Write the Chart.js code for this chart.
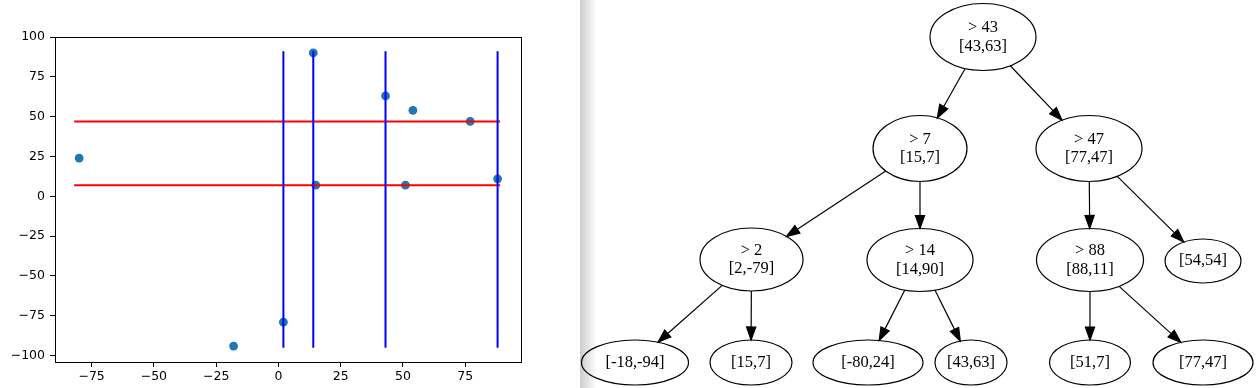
<!DOCTYPE html>
<html lang="en">
<head>
    <meta charset="UTF-8">
    <title>k-d tree splits</title>
    <script src="https://cdn.jsdelivr.net/npm/chart.js"></script>
    <style>
        body { margin: 0; background: #fff; overflow: hidden; }
        #wrap { position: relative; width: 1259px; height: 388px; }
        #chartPts { position: absolute; left: 0; top: 0; }
        #shade {
            position: absolute; left: 580px; top: 0; width: 17px; height: 388px;
            background: linear-gradient(to right, #cdcdcd, #ffffff);
        }
        #chartTree { position: absolute; left: 580px; top: 0; }
    </style>
</head>
<body>
<div id="wrap">
    <canvas id="chartPts" width="580" height="388"></canvas>
    <div id="shade"></div>
    <canvas id="chartTree" width="679" height="388"></canvas>
</div>

<script>
    // points
    const ptX = [-80, -18, 2, 14, 15, 43, 51, 54, 77, 88];
    const ptY = [24, -94, -79, 90, 7, 63, 7, 54, 47, 11];

    // split lines
    const hSplits = [47, 7];          // y value of each horizontal split
    const hSpan = [-82, 89];          // x extent
    const vSplits = [2, 14, 43, 88];  // x value of each vertical split
    const vSpan = [-95, 91];          // y extent

    // tick labels
    const xTicks = [-75, -50, -25, 0, 25, 50, 75];
    const yTicks = [-100, -75, -50, -25, 0, 25, 50, 75, 100];

    // tree nodes: point stored in node, split value (null for leaves), parent index
    const nodePx = [43, 15, 77, 2, 14, 88, 54, -18, 15, -80, 43, 51, 77];
    const nodePy = [63, 7, 47, -79, 90, 11, 54, -94, 7, 24, 63, 7, 47];
    const nodeSplit = [43, 7, 47, 2, 14, 88, null, null, null, null, null, null, null];
    const nodeParent = [-1, 0, 0, 1, 1, 2, 2, 3, 3, 4, 4, 5, 5];

    // tree layout (layout units of the tree panel)
    const layoutX = [403, 340, 509, 171.5, 340, 510, 623, 55, 171, 288, 391, 510, 623];
    const layoutY = [37, 148.5, 148.5, 259.5, 260, 260, 261, 362.5, 362.5, 362.5, 362.5, 362.5, 362.5];
    const nodeW = [106, 94, 106, 103, 106, 107, 76, 107, 82, 110, 72, 81, 100];
    const nodeH = [67, 66, 66, 63, 63, 63, 44, 45, 45, 45, 45, 45, 45];

    Chart.defaults.font.family = 'DejaVu Sans';
    Chart.defaults.font.size = 12.5;
    Chart.defaults.color = '#000';
    const tickFont = { family: 'DejaVu Sans', size: 12.5 };
    const minus = v => String(v).replace('-', '\u2212');

    // box around the plot area (matplotlib spines)
    const framePlugin = {
        id: 'frame',
        afterDraw(chart) {
            const a = chart.chartArea, ctx = chart.ctx;
            ctx.save();
            ctx.strokeStyle = '#000';
            ctx.lineWidth = 1;
            ctx.strokeRect(Math.round(a.left) + 0.5, Math.round(a.top) + 0.5,
                Math.round(a.right - a.left), Math.round(a.bottom - a.top));
            ctx.restore();
        }
    };

    const datasets = [{
        type: 'scatter',
        data: ptX.map((x, i) => ({ x: x, y: ptY[i] })),
        backgroundColor: '#1f77b4',
        borderWidth: 0,
        pointRadius: 4.4,
        order: 3
    }];
    hSplits.forEach(v => datasets.push({
        type: 'line',
        data: hSpan.map(x => ({ x: x, y: v })),
        borderColor: '#ff0000',
        borderWidth: 2,
        pointRadius: 0,
        fill: false,
        order: 2
    }));
    vSplits.forEach(v => datasets.push({
        type: 'line',
        data: vSpan.map(y => ({ x: v, y: y })),
        borderColor: '#0000ff',
        borderWidth: 2,
        pointRadius: 0,
        fill: false,
        order: 1
    }));

    new Chart(document.getElementById('chartPts'), {
        type: 'scatter',
        data: { datasets: datasets },
        options: {
            responsive: false,
            animation: false,
            devicePixelRatio: 1,
            layout: { padding: { top: 37, right: 59, left: 0, bottom: 0 } },
            plugins: { legend: { display: false }, tooltip: { enabled: false } },
            scales: {
                x: {
                    type: 'linear', min: -89.7, max: 97.4,
                    afterBuildTicks: s => { s.ticks = xTicks.map(v => ({ value: v })); },
                    afterFit: s => { s.height = 26; },
                    grid: { drawOnChartArea: false, tickLength: 5, tickColor: '#000' },
                    border: { color: '#000' },
                    ticks: { font: tickFont, color: '#000', padding: 2, maxRotation: 0, autoSkip: false, callback: minus }
                },
                y: {
                    type: 'linear', min: -104, max: 100,
                    afterBuildTicks: s => { s.ticks = yTicks.map(v => ({ value: v })); },
                    afterFit: s => { s.width = 55; },
                    grid: { drawOnChartArea: false, tickLength: 5, tickColor: '#000' },
                    border: { color: '#000' },
                    ticks: { font: tickFont, color: '#000', padding: 5, autoSkip: false, callback: minus }
                }
            }
        },
        plugins: [framePlugin]
    });

    // ---- tree ----
    function onEllipse(cx, cy, rx, ry, dx, dy) {
        const t = 1 / Math.sqrt((dx / rx) ** 2 + (dy / ry) ** 2);
        return [cx + dx * t, cy + dy * t];
    }

    const treePlugin = {
        id: 'tree',
        afterDatasetsDraw(chart) {
            const { ctx, scales: { x, y } } = chart;
            const n = nodePx.length;
            const cx = [], cy = [], rx = [], ry = [];
            for (let i = 0; i < n; i++) {
                cx[i] = x.getPixelForValue(layoutX[i]);
                cy[i] = y.getPixelForValue(layoutY[i]);
                rx[i] = Math.abs(x.getPixelForValue(layoutX[i] + nodeW[i] / 2) - cx[i]);
                ry[i] = Math.abs(y.getPixelForValue(layoutY[i] + nodeH[i] / 2) - cy[i]);
            }
            ctx.save();
            ctx.strokeStyle = '#000';
            ctx.fillStyle = '#000';
            ctx.lineWidth = 1.2;

            // edges with arrow heads
            for (let i = 0; i < n; i++) {
                const p = nodeParent[i];
                if (p < 0) continue;
                const dx = cx[i] - cx[p], dy = cy[i] - cy[p];
                const s = onEllipse(cx[p], cy[p], rx[p], ry[p], dx, dy);
                const e = onEllipse(cx[i], cy[i], rx[i], ry[i], -dx, -dy);
                const len = Math.hypot(dx, dy), ux = dx / len, uy = dy / len;
                const al = 13, aw = 4.6;
                const bx = e[0] - ux * al, by = e[1] - uy * al;
                ctx.beginPath();
                ctx.moveTo(s[0], s[1]);
                ctx.lineTo(bx, by);
                ctx.stroke();
                ctx.beginPath();
                ctx.moveTo(e[0], e[1]);
                ctx.lineTo(bx - uy * aw, by + ux * aw);
                ctx.lineTo(bx + uy * aw, by - ux * aw);
                ctx.closePath();
                ctx.fill();
                ctx.stroke();
            }

            // nodes
            ctx.font = '16.5px "Liberation Serif"';
            ctx.textAlign = 'center';
            ctx.textBaseline = 'middle';
            for (let i = 0; i < n; i++) {
                ctx.beginPath();
                ctx.ellipse(cx[i], cy[i], rx[i], ry[i], 0, 0, Math.PI * 2);
                ctx.stroke();
                const pt = '[' + nodePx[i] + ',' + nodePy[i] + ']';
                if (nodeSplit[i] !== null) {
                    ctx.fillText('> ' + nodeSplit[i], cx[i], cy[i] - 9.3);
                    ctx.fillText(pt, cx[i], cy[i] + 9.3);
                } else {
                    ctx.fillText(pt, cx[i], cy[i]);
                }
            }
            ctx.restore();
        }
    };

    new Chart(document.getElementById('chartTree'), {
        type: 'scatter',
        data: {
            datasets: [{
                data: layoutX.map((v, i) => ({ x: v, y: layoutY[i] })),
                pointRadius: 0
            }]
        },
        options: {
            responsive: false,
            animation: false,
            devicePixelRatio: 1,
            layout: { padding: 0 },
            plugins: { legend: { display: false }, tooltip: { enabled: false } },
            scales: {
                x: { type: 'linear', min: 0, max: 679, display: false },
                y: { type: 'linear', min: 0, max: 388, reverse: true, display: false }
            }
        },
        plugins: [treePlugin]
    });
</script>
</body>
</html>
